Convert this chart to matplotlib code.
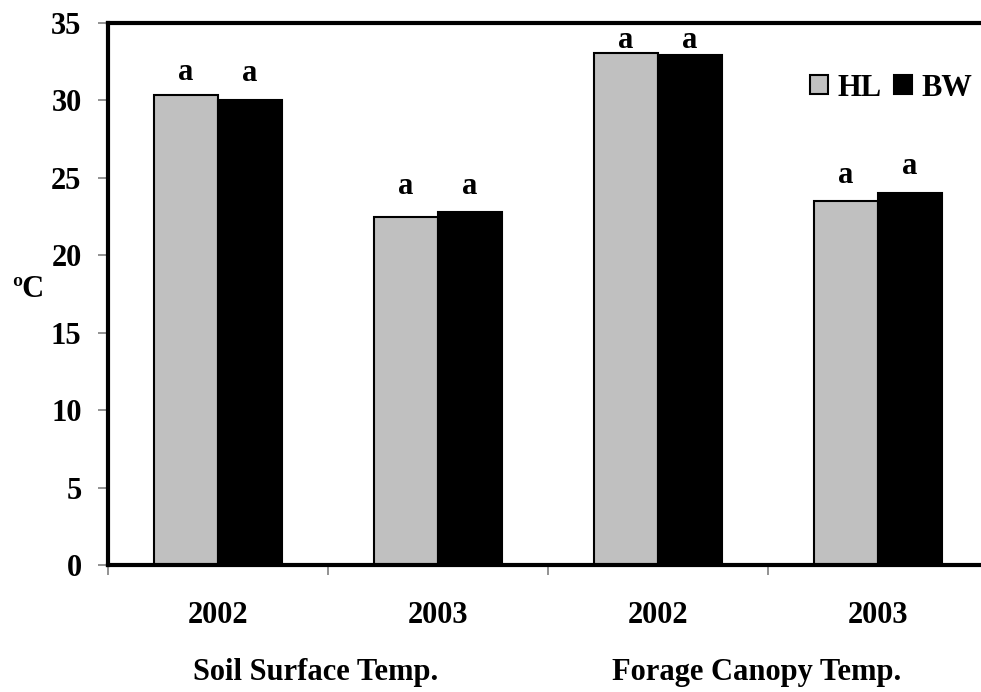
import numpy as np
import matplotlib.pyplot as plt
from matplotlib.patches import Patch

plt.rcParams['font.family'] = ['Liberation Serif', 'DejaVu Serif']
plt.rcParams['font.weight'] = 'bold'

years = ["2002", "2003", "2002", "2003"]
groups = ["Soil Surface Temp.", "Forage Canopy Temp."]
hl = [30.35, 22.5, 33.05, 23.5]
bw = [30.0, 22.8, 32.95, 24.0]
hl_letters = ["a", "a", "a", "a"]
bw_letters = ["a", "a", "a", "a"]

fs = 22
fig = plt.figure(figsize=(9.81, 6.92), dpi=100)
ax = fig.add_axes([0.1101, 0.1835, 0.897, 0.7832])

x = np.arange(len(years))
w = 0.29
ax.bar(x - w/2, hl, w, color='#c0c0c0', edgecolor='black', linewidth=1.5)
ax.bar(x + w/2, bw, w, color='black', edgecolor='black', linewidth=1.5)

# letters above bars (baseline offset in points)
offs_hl = [11, 16, 4, 13]
offs_bw = [14, 13, 5, 14]
for i in range(len(years)):
    ax.annotate(hl_letters[i], (x[i] - w/2, hl[i]), xytext=(0, offs_hl[i]),
                textcoords='offset points', ha='center', va='baseline', fontsize=fs, fontweight='bold')
    ax.annotate(bw_letters[i], (x[i] + w/2, bw[i]), xytext=(0, offs_bw[i]),
                textcoords='offset points', ha='center', va='baseline', fontsize=fs, fontweight='bold')

ax.set_xlim(-0.5, 3.5)
ax.set_ylim(0, 35)
ax.set_yticks(range(0, 36, 5))
ax.set_yticklabels([str(v) for v in range(0, 36, 5)], fontsize=fs, fontweight='bold')
ax.set_xticks(np.arange(-0.5, 4, 1))
ax.set_xticklabels([])
ax.tick_params(axis='both', direction='out', length=7, width=1.2, color='#808080')
ax.tick_params(axis='y', pad=12)

for s in ax.spines.values():
    s.set_linewidth(3)

for i, yr in enumerate(years):
    ax.text(x[i], -3.74, yr, ha='center', va='baseline', fontsize=fs, fontweight='bold')
ax.text(0.445, -7.42, groups[0], ha='center', va='baseline', fontsize=fs, fontweight='bold')
ax.text(2.45, -7.42, groups[1], ha='center', va='baseline', fontsize=fs, fontweight='bold')

fig.text(28/981, 1 - 290/692, "ºC", ha='center', va='center', fontsize=fs, fontweight='bold')

handles = [Patch(facecolor='#c0c0c0', edgecolor='black', linewidth=1.5, label='HL'),
           Patch(facecolor='black', edgecolor='black', linewidth=1.5, label='BW')]
fig.legend(handles=handles, loc='center left', bbox_to_anchor=(810/981, 1 - 88/692),
           ncol=2, frameon=False, fontsize=fs, handlelength=0.6, handleheight=0.6,
           handletextpad=0.3, columnspacing=0.4, borderpad=0, borderaxespad=0)

plt.savefig("out.png", dpi=100)
